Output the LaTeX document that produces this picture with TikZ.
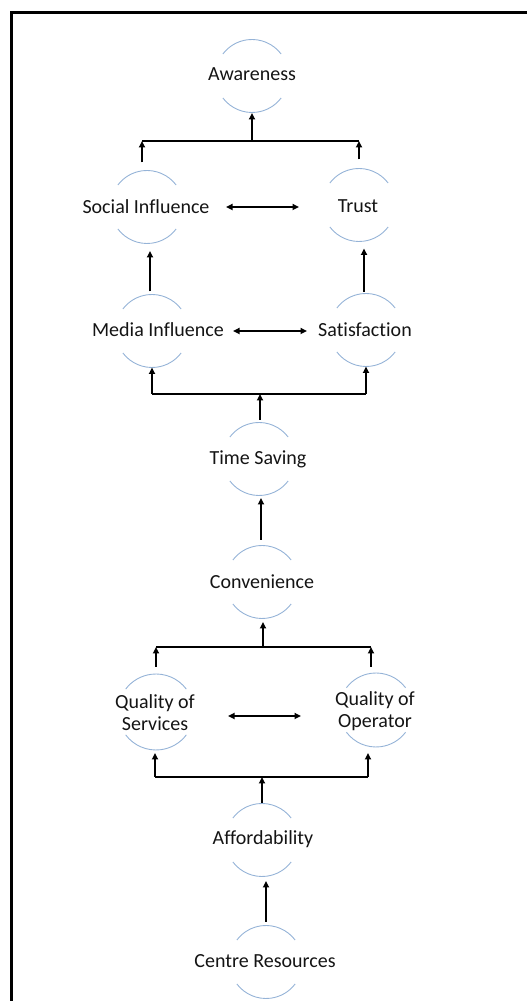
\documentclass[tikz,border=0pt]{standalone}
\usepackage{fontspec}
\setmainfont{Carlito}[Ligatures=NoCommon]
\usetikzlibrary{arrows.meta,calc}
\definecolor{ringc}{RGB}{149,179,215}
\definecolor{txtc}{RGB}{20,20,20}
\newcommand\ringarcs[2]{%
  \draw[ringarc] (#1.37) arc[start angle=37,end angle=143,radius=#2];
  \draw[ringarc] (#1.217) arc[start angle=217,end angle=323,radius=#2];}
\begin{document}
\begin{tikzpicture}[x=1pt,y=1pt,
  ring/.style={circle,minimum size=73pt,inner sep=0pt,outer sep=0pt},
  lbl/.style={font=\fontsize{20}{22}\selectfont,align=center,inner sep=0pt,text=txtc},
  ringarc/.style={draw=ringc,line width=0.9pt},
  ln/.style={line width=1.8pt},
  arr/.style={ln,-{Triangle[length=6.5pt,width=6pt]}},
  darr/.style={ln,{Triangle[length=6.5pt,width=6pt]}-{Triangle[length=6.5pt,width=6pt]}}]
\useasboundingbox (0,0) rectangle (527,1001);
% frame
\draw[line width=3pt,line join=miter] (11.5,0) -- (11.5,988.5) -- (527,988.5);

% rings
\node[ring] (c-aw) at (252,925) {};
\node[ring] (c-si) at (147,794) {};
\node[ring] (c-tr) at (359,796) {};
\node[ring] (c-mi) at (152,670) {};
\node[ring] (c-sa) at (366,671) {};
\node[ring] (c-ts) at (259,542) {};
\node[ring] (c-cv) at (262,419) {};
\node[ring,minimum size=76pt] (c-qs) at (156,289) {};
\node[ring,minimum size=74pt] (c-qo) at (376,291) {};
\node[ring] (c-af) at (262,161) {};
\node[ring] (c-cr) at (266,39) {};
\ringarcs{c-aw}{36.5}
\ringarcs{c-si}{36.5}
\ringarcs{c-tr}{36.5}
\ringarcs{c-mi}{36.5}
\ringarcs{c-sa}{36.5}
\ringarcs{c-ts}{36.5}
\ringarcs{c-cv}{36.5}
\ringarcs{c-qs}{38}
\ringarcs{c-qo}{37}
\ringarcs{c-af}{36.5}
\ringarcs{c-cr}{36.5}

% labels
\node[lbl] (t-aw) at (252,927) {Awareness};
\node[lbl] (t-si) at (146,794) {Social Influence};
\node[lbl] (t-tr) at (358,795) {Trust};
\node[lbl] (t-mi) at (158,671) {Media Influence};
\node[lbl] (t-sa) at (365,671) {Satisfaction};
\node[lbl] (t-ts) at (258,542) {Time Saving};
\node[lbl] (t-cv) at (262,419) {Convenience};
\node[lbl] (t-qs) at (155,288) {Quality of\\Services};
\node[lbl] (t-qo) at (375,290) {Quality of\\Operator};
\node[lbl] (t-af) at (263,162) {Affordability};
\node[lbl] (t-cr) at (265,40) {Centre Resources};

% top bar
\coordinate (b1l) at (142,860);
\coordinate (b1r) at (359,860);
\draw[ln] (b1l) -- (b1r);
\draw[arr] (b1l -| c-aw) -- ([yshift=-0.5pt]c-aw.south);
\draw[arr] ([yshift=8pt]c-si.north -| b1l) -- (b1l);
\draw[arr] ([yshift=9pt]c-tr.north -| b1r) -- (b1r);

% double arrows
\draw[darr] ($(c-si)+(79,0)$) -- ($(c-si)+(152,0)$);
\draw[darr] ($(c-mi)+(81,0)$) -- ($(c-mi)+(155,0)$);
\draw[darr] ($(c-qs)+(72,-4)$) -- ($(c-qs)+(145,-4)$);

% media -> social, satisfaction -> trust
\draw[arr] ([shift={(-2,3)}]c-mi.north) -- ([shift={(3,-7.5)}]c-si.south);
\draw[arr] ([shift={(-2,1.5)}]c-sa.north) -- ([shift={(5,-7)}]c-tr.south);

% bar 2
\coordinate (b2) at (260,607);
\draw[ln] (b2 -| c-mi) -- (b2 -| c-sa);
\draw[arr] (b2 -| c-mi) -- (c-mi.south);
\draw[arr] (b2 -| c-sa) -- (c-sa.south);
\draw[arr] ([shift={(1,2.5)}]c-ts.north) -- (b2);

% convenience -> time saving
\draw[arr] ([shift={(-1,5.5)}]c-cv.north) -- ([shift={(2,-2.5)}]c-ts.south);

% bar 3
\coordinate (b3) at (263,354);
\coordinate (b3l) at (156,354);
\coordinate (b3r) at (371,354);
\draw[ln] (b3l) -- (b3r);
\draw[arr] (b3) -- ([shift={(1,-3.5)}]c-cv.south);
\draw[arr] ([yshift=7pt]c-qs.north -| b3l) -- (b3l);
\draw[arr] ([yshift=6pt]c-qo.north -| b3r) -- (b3r);

% bar 4
\coordinate (b4l) at (155,224);
\coordinate (b4r) at (368,224);
\draw[ln] (b4l) -- (b4r);
\draw[arr] (b4l) -- ([shift={(-1,-3)}]c-qs.south);
\draw[arr] (b4r) -- ([shift={(-8,-6)}]c-qo.south);
\draw[arr] ([yshift=0.5pt]c-af.north) -- (c-af.north |- b4l);

% centre resources -> affordability
\draw[arr] ([yshift=3.5pt]c-cr.north) -- ([shift={(4,-4.5)}]c-af.south);
\end{tikzpicture}
\end{document}
